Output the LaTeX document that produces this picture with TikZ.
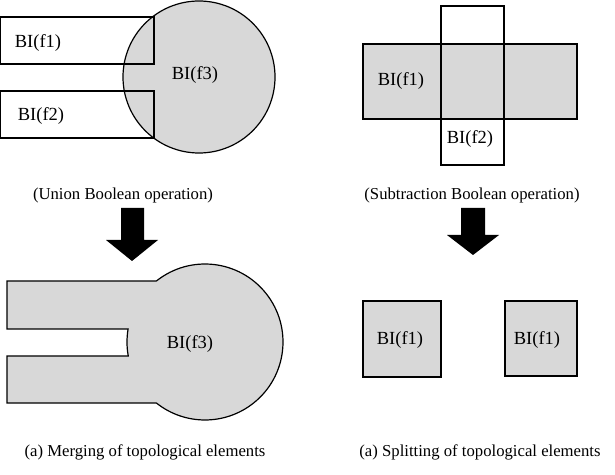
\documentclass[tikz,border=0pt]{standalone}
\usepackage{fontspec}
\setmainfont{Liberation Serif}
\usetikzlibrary{calc}
\definecolor{shapegray}{RGB}{216,216,216}
\begin{document}
\begin{tikzpicture}[x=1pt,y=1pt,
  outline/.style={draw=black,line width=1.2pt},
  grayfill/.style={fill=shapegray},
  lbl/.style={font=\fontsize{18.5}{21}\selectfont,inner sep=0pt},
  captext/.style={font=\fontsize{16.7}{20}\selectfont,inner sep=0pt},
  blockarrow/.style={fill=black,draw=none}]
\useasboundingbox (0,0) rectangle (615,474);
% ---------- top left: union ----------
\fill[white] (0.6,457) rectangle (154,410);
\fill[white] (0.6,383) rectangle (154,336);
\draw[outline,grayfill] (199,397) circle[radius=76];
\draw[outline] (0.6,457) rectangle (154,410);
\draw[outline] (0.6,383) rectangle (154,336);
\node[lbl] (tf1) at (38,431) {BI(f1)};
\node[lbl] (tf2) at (41,358) {BI(f2)};
\node[lbl] (tf3) at (195,399) {BI(f3)};
% ---------- top right: subtraction ----------
\draw[outline,fill=white] (441,468) rectangle (504,309);
\fill[shapegray] (363,430) rectangle (577,355);
\draw[outline] (363,430) rectangle (577,355);
\draw[outline] (441,468) rectangle (504,309);
\node[lbl] (sf1) at (401,393) {BI(f1)};
\node[lbl] (sf2) at (470,335) {BI(f2)};
% ---------- captions ----------
\node[captext] (c1) at (123,279) {(Union Boolean operation)};
\node[captext] (c2) at (472,279) {(Subtraction Boolean operation)};
% ---------- block arrows ----------
\fill[blockarrow] (121,266) -- (144,266) -- (144,234) -- (158,234) -- (132,213) -- (106,234) -- (121,234) -- cycle;
\fill[blockarrow] (461,266) -- (485,266) -- (485,239) -- (499,239) -- (473,219) -- (447,239) -- (461,239) -- cycle;
% ---------- bottom left: merged ----------
\coordinate (mc) at (205,132);
\draw[outline,grayfill,line join=miter]
  (7,193) -- ($(mc)+(128.55:78)$) arc[start angle=128.55,end angle=-128.55,radius=78]
  -- (7,71) -- (7,118) -- ($(mc)+(190.3:78)$) arc[start angle=190.3,end angle=170.4,radius=78]
  -- (7,145) -- cycle;
\node[lbl] (mf3) at (190,130) {BI(f3)};
% ---------- bottom right: split ----------
\draw[outline,grayfill] (363,173) rectangle (441,97);
\draw[outline,grayfill] (505,173) rectangle (577,98);
\node[lbl] (pf1) at (400,134) {BI(f1)};
\node[lbl] (pf2) at (537,134) {BI(f1)};
% ---------- bottom captions ----------
\node[captext] (c3) at (145,22) {(a) Merging of topological elements};
\node[captext] (c4) at (480,22) {(a) Splitting of topological elements};
\end{tikzpicture}
\end{document}
